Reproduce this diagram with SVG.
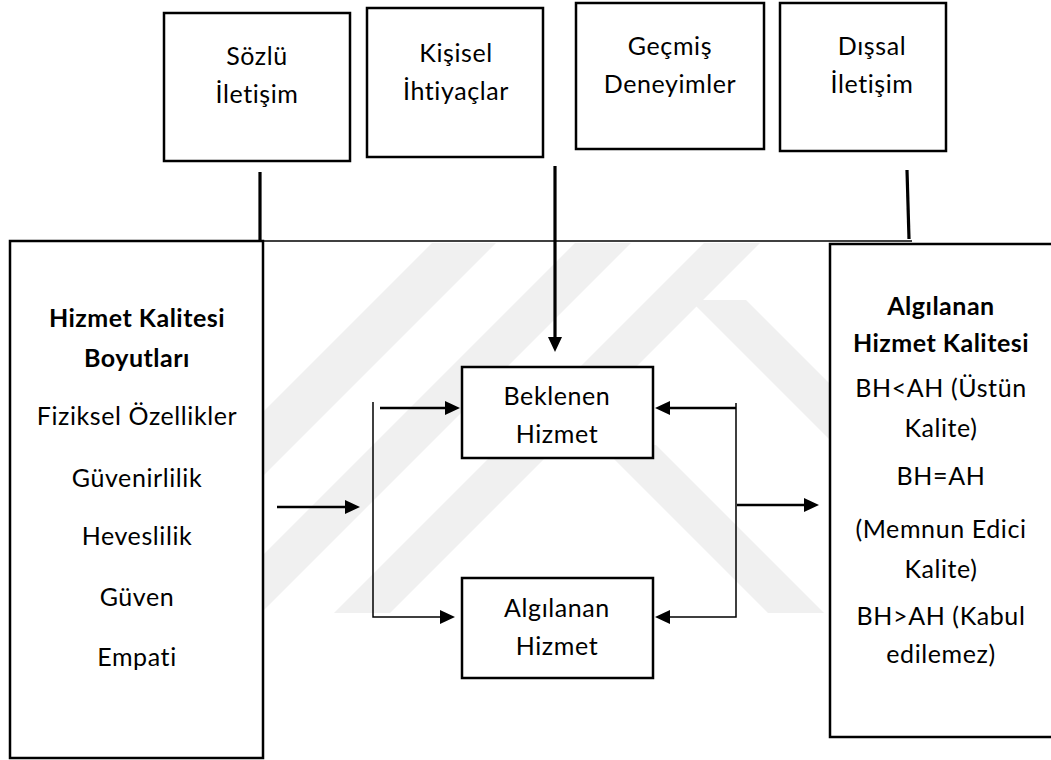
<svg xmlns="http://www.w3.org/2000/svg" width="1051" height="760" viewBox="0 0 1051 760">
  <style>
    .box { fill: none; stroke: #000; stroke-width: 2.5; }
    .t { font-family: "Lato", "Open Sans", "Liberation Sans", sans-serif; font-size: 25px; letter-spacing: 0.6px; font-variant-ligatures: none; fill: #000; text-anchor: middle; }
    .b { font-weight: bold; letter-spacing: 0.5px; }
    .ln { fill: none; stroke: #000; stroke-width: 2.5; }
    .thin { fill: none; stroke: #000; stroke-width: 1.5; }
    .thick { fill: none; stroke: #000; stroke-width: 3.2; }
    .wm { fill: #f0f0f0; }
  </style>
  <defs>
    <marker id="arrow" markerUnits="userSpaceOnUse" markerWidth="16" markerHeight="14" refX="11" refY="7" orient="auto">
      <path d="M0,0 L15,7 L0,14 z" fill="#000"/>
    </marker>
    <clipPath id="wm-area">
      <rect x="264" y="243" width="565" height="370"/>
    </clipPath>
  </defs>
  <rect width="1051" height="760" fill="#fff"/>

  <!-- faint background emblem: diagonal bands -->
  <g id="background-emblem" clip-path="url(#wm-area)">
    <polygon class="wm" points="432,243 496,243 264,475 264,411"/>
    <polygon class="wm" points="575,243 631,243 261,613 205,613"/>
    <polygon class="wm" points="704,243 760,243 390,613 334,613"/>
    <polygon class="wm" points="600,445 656,445 824,613 768,613"/>
    <polygon class="wm" points="690,300 746,300 830,384 830,440"/>
  </g>

  <!-- influence boxes along the top -->
  <g id="sozlu-iletisim">
    <rect class="box" x="164" y="13" width="186" height="148"/>
    <text class="t" x="257" y="65">Sözlü</text>
    <text class="t" x="257" y="103">İletişim</text>
  </g>
  <g id="kisisel-ihtiyaclar">
    <rect class="box" x="367" y="8" width="176" height="149"/>
    <text class="t" x="456" y="62">Kişisel</text>
    <text class="t" x="456" y="100">İhtiyaçlar</text>
  </g>
  <g id="gecmis-deneyimler">
    <rect class="box" x="576" y="3" width="188" height="146"/>
    <text class="t" x="670" y="55">Geçmiş</text>
    <text class="t" x="670" y="93">Deneyimler</text>
  </g>
  <g id="dissal-iletisim">
    <rect class="box" x="780" y="3" width="166" height="148"/>
    <text class="t" x="872" y="55">Dışsal</text>
    <text class="t" x="872" y="93">İletişim</text>
  </g>

  <!-- service quality dimensions -->
  <g id="hizmet-kalitesi-boyutlari">
    <rect class="box" x="10" y="241" width="253" height="517"/>
    <text class="t b" x="137" y="327">Hizmet Kalitesi</text>
    <text class="t b" x="137" y="367">Boyutları</text>
    <text class="t" x="137" y="425">Fiziksel Özellikler</text>
    <text class="t" x="137" y="487">Güvenirlilik</text>
    <text class="t" x="137" y="545">Heveslilik</text>
    <text class="t" x="137" y="606">Güven</text>
    <text class="t" x="137" y="666">Empati</text>
  </g>

  <!-- expected / perceived service -->
  <g id="beklenen-hizmet">
    <rect x="462" y="367" width="191" height="91" fill="#fff"/>
    <rect class="box" x="462" y="367" width="191" height="91"/>
    <text class="t" x="557" y="405">Beklenen</text>
    <text class="t" x="557" y="443">Hizmet</text>
  </g>
  <g id="algilanan-hizmet">
    <rect x="462" y="578" width="191" height="100" fill="#fff"/>
    <rect class="box" x="462" y="578" width="191" height="100"/>
    <text class="t" x="557" y="617">Algılanan</text>
    <text class="t" x="557" y="655">Hizmet</text>
  </g>

  <!-- perceived service quality outcome -->
  <g id="algilanan-hizmet-kalitesi">
    <rect class="box" x="830" y="244" width="240" height="493"/>
    <text class="t b" x="941" y="315">Algılanan</text>
    <text class="t b" x="941" y="352">Hizmet Kalitesi</text>
    <text class="t" x="941" y="397">BH&lt;AH (Üstün</text>
    <text class="t" x="941" y="437">Kalite)</text>
    <text class="t" x="941" y="485">BH=AH</text>
    <text class="t" x="941" y="538">(Memnun Edici</text>
    <text class="t" x="941" y="578">Kalite)</text>
    <text class="t" x="941" y="625">BH&gt;AH (Kabul</text>
    <text class="t" x="941" y="663">edilemez)</text>
  </g>

  <!-- connectors -->
  <g id="connectors">
    <line class="thick" x1="260" y1="172" x2="260" y2="241"/>
    <line class="thin" x1="262" y1="241" x2="912" y2="241"/>
    <line class="thick" x1="555" y1="166" x2="555" y2="348" marker-end="url(#arrow)"/>
    <line class="thick" x1="907" y1="170" x2="909" y2="239"/>

    <line class="ln" x1="277" y1="507" x2="356" y2="507" marker-end="url(#arrow)"/>
    <polyline class="thin" points="373,402 373,617 451,617" marker-end="url(#arrow)"/>
    <line class="ln" x1="380" y1="408" x2="456" y2="408" marker-end="url(#arrow)"/>

    <polyline class="thin" points="736,403 736,617 659,617" marker-end="url(#arrow)"/>
    <line class="ln" x1="736" y1="408" x2="659" y2="408" marker-end="url(#arrow)"/>
    <line class="ln" x1="737" y1="505" x2="815" y2="505" marker-end="url(#arrow)"/>
  </g>
</svg>
